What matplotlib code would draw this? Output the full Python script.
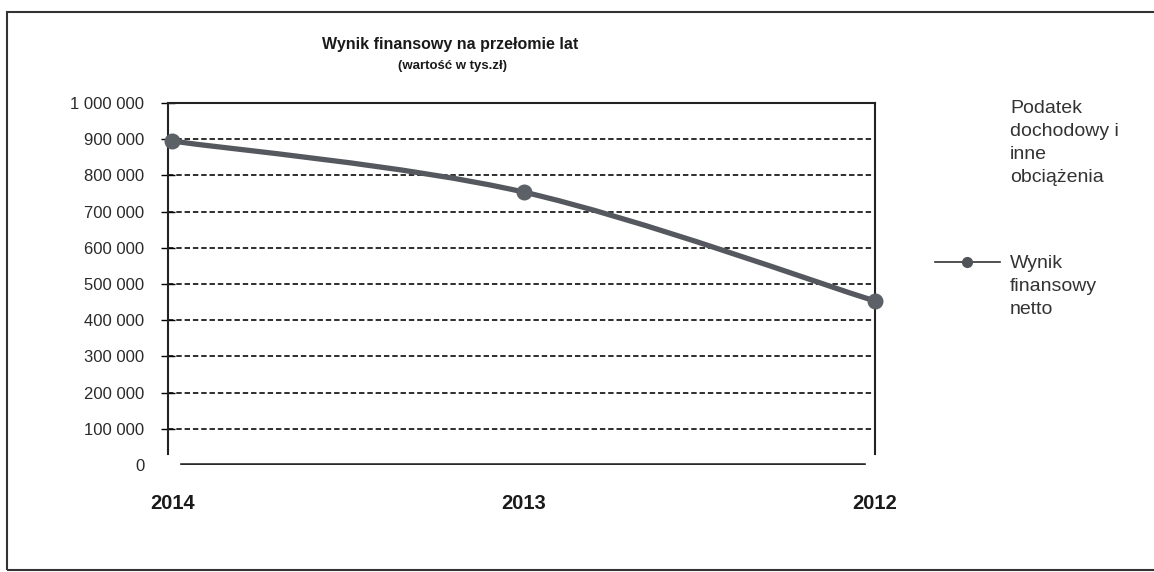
import matplotlib
matplotlib.use("Agg")
import matplotlib.pyplot as plt
from matplotlib.path import Path
from matplotlib.patches import PathPatch, Rectangle
from matplotlib.lines import Line2D
from matplotlib.ticker import FuncFormatter

plt.rcParams['font.family'] = ['Liberation Sans', 'DejaVu Sans']

# ---- data ----
years = ["2014", "2013", "2012"]
wynik_netto = [895000, 754000, 453000]
y_ticks = [0, 100000, 200000, 300000, 400000, 500000, 600000, 700000, 800000, 900000, 1000000]
title = "Wynik finansowy na przełomie lat"
subtitle = "(wartość w tys.zł)"
legend_labels = ["Podatek\ndochodowy i\ninne\nobciążenia", "Wynik\nfinansowy\nnetto"]

W, H = 1154, 572
fig = plt.figure(figsize=(W / 100, H / 100), dpi=100)
ax = fig.add_axes([168 / W, 1 - 465 / H, (875 - 168) / W, (465 - 103) / H])

line_color = '#55595f'
xs = list(range(len(years)))
pts = list(zip(xs, wynik_netto))

# smoothed line (Catmull-Rom style Bezier, like Excel's "smoothed line")
verts = [pts[0]]
codes = [Path.MOVETO]
n = len(pts)
for i in range(n - 1):
    p0 = pts[i - 1] if i > 0 else pts[i]
    p1 = pts[i]
    p2 = pts[i + 1]
    p3 = pts[i + 2] if i + 2 < n else pts[i + 1]
    c1 = (p1[0] + (p2[0] - p0[0]) / 6, p1[1] + (p2[1] - p0[1]) / 6)
    c2 = (p2[0] - (p3[0] - p1[0]) / 6, p2[1] - (p3[1] - p1[1]) / 6)
    verts += [c1, c2, p2]
    codes += [Path.CURVE4] * 3
curve = PathPatch(Path(verts, codes), facecolor='none', edgecolor=line_color,
                  linewidth=3.8, capstyle='round', zorder=3, clip_on=False)
ax.add_patch(curve)
ax.plot(xs, wynik_netto, linestyle='none', marker='o', markersize=10.5,
        color='#5c6067', zorder=4, clip_on=False)

ax.set_xlim(-0.012, 2.0)
ax.set_ylim(0, 1000000)
ax.set_yticks(y_ticks)
ax.yaxis.set_major_formatter(FuncFormatter(lambda v, p: f"{int(v):,}".replace(",", " ")))
for v in y_ticks[1:-1]:
    ax.axhline(v, color='#1e1e1e', linewidth=1.3, linestyle=(0, (3, 1.6)), zorder=1)
ax.axhline(0, xmin=0.02, xmax=0.985, color='#2a2a2a', linewidth=2.6, zorder=2)

ax.set_xticks(xs)
ax.set_xticklabels(years, fontsize=14.5, fontweight='bold', color='#1a1a1a')
ax.tick_params(axis='x', length=0, pad=21)
ax.tick_params(axis='y', direction='inout', length=10, width=1, labelsize=12,
               labelcolor='#2a2a2a', pad=12)
ax.yaxis.get_major_ticks()[0].tick1line.set_visible(False)
ax.yaxis.get_major_ticks()[0].tick2line.set_visible(False)

ax.spines['bottom'].set_visible(False)
for s in ['left', 'right']:
    ax.spines[s].set_bounds(30000, 1000000)
    ax.spines[s].set_color('#222222')
    ax.spines[s].set_linewidth(1.5)
ax.spines['top'].set_color('#222222')
ax.spines['top'].set_linewidth(1.5)

# titles
fig.text(450 / W, 1 - 45 / H, title, ha='center', va='center', fontsize=11.5,
         fontweight='bold', color='#1a1a1a')
fig.text(452 / W, 1 - 66 / H, subtitle, ha='center', va='center', fontsize=9.5,
         fontweight='bold', color='#1a1a1a')

# legend (manual, text wraps like Excel)
fig.text(1010 / W, 1 - 100 / H, legend_labels[0], ha='left', va='top', fontsize=14,
         color='#333333', linespacing=1.45)
fig.add_artist(Line2D([935 / W, 1000 / W], [1 - 262 / H, 1 - 262 / H], color='#333333',
                      linewidth=1.2, transform=fig.transFigure))
fig.add_artist(Line2D([967 / W], [1 - 262 / H], marker='o', markersize=7, color='#505459',
                      transform=fig.transFigure))
fig.text(1010 / W, 1 - 255 / H, legend_labels[1], ha='left', va='top', fontsize=14,
         color='#333333', linespacing=1.45)

# outer chart frame
fig.add_artist(Rectangle((7 / W, 1 - 570 / H), 1.2, (570 - 12) / H, fill=False,
                         edgecolor='#333333', linewidth=1.5, transform=fig.transFigure))

fig.savefig("out.png", dpi=100)
